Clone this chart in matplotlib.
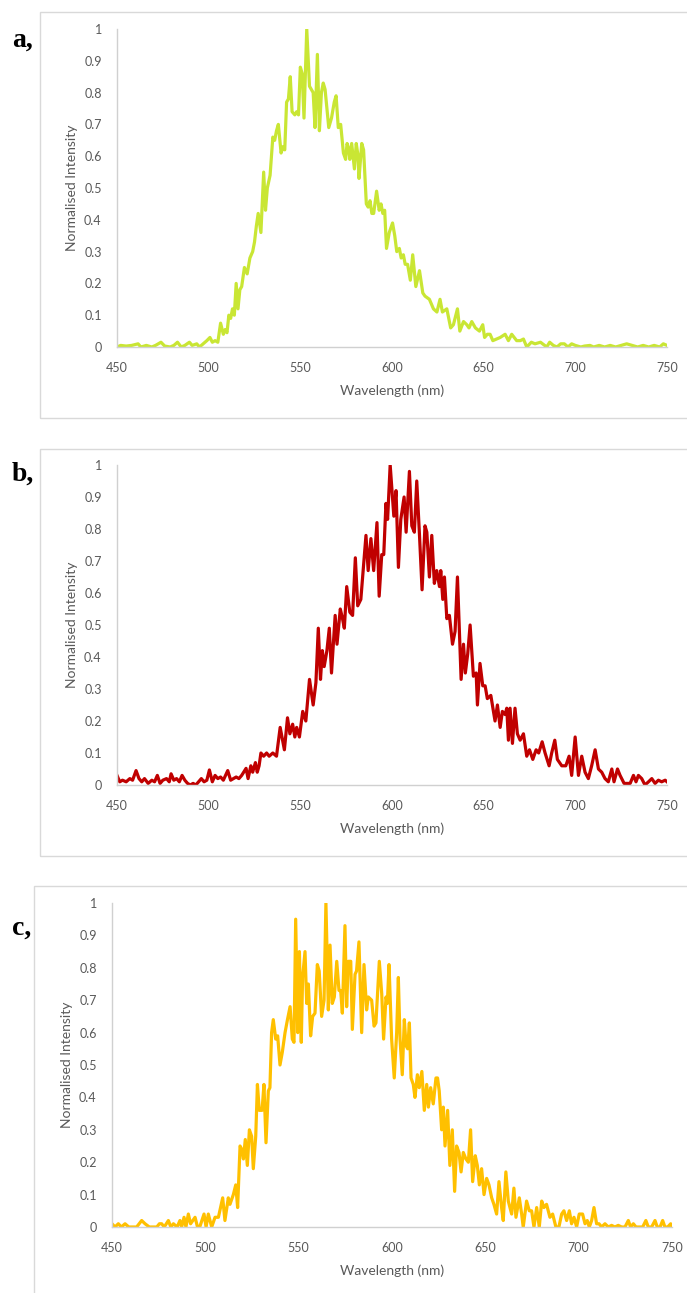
import numpy as np
import matplotlib.pyplot as plt
from matplotlib.patches import Rectangle

# Panel a spectrum (wavelength nm, normalised intensity)
a_wl = [450, 452, 455, 458, 461.5, 463, 466, 469, 471, 474, 476, 479, 481, 483, 485, 487,
        489.5, 491, 493.5, 495, 497, 499, 500.7, 502, 503.5, 505, 506.5, 508, 509, 510, 511,
        512, 513, 514, 515, 516, 517, 518, 519.5, 521, 522.5, 524, 525, 526, 527, 528.5, 530,
        531, 532, 533.5, 535, 536, 537, 538, 539.5, 540.5, 541.5, 542.5, 543.5, 544.5, 545.5,
        547, 548, 549, 550, 551, 552, 553.5, 555, 556, 557, 558, 559.3, 560.4, 561.5, 562.5,
        563.5, 565.5, 567, 568.5, 569.5, 570.7, 572, 573.5, 574.7, 575.5, 576.5, 577, 578,
        579.5, 580.5, 581.5, 582, 583.5, 584.5, 586, 587, 588, 589, 590, 591.6, 593, 594, 595,
        596, 597, 598.5, 600.3, 601.5, 602.6, 604, 605, 606.2, 607.2, 608.5, 610, 611.3, 613,
        615, 616.8, 618, 620.4, 622.6, 624.5, 626.2, 627.5, 629.9, 632, 633.5, 635.7, 637, 639,
        640.8, 642, 643.5, 645.5, 647.7, 649.5, 650.5, 652, 653.5, 655, 657, 659, 661.7, 663.5,
        665.3, 668, 670, 671.7, 673.5, 676, 678, 681, 684.4, 686, 688, 690, 692, 694, 696, 698,
        700, 703, 705, 708, 710, 713, 716, 719, 722, 725, 728, 731, 734, 737, 740, 743, 746,
        748, 750]
a_int = [0.0, 0.005, 0.003, 0.005, 0.01, 0.0, 0.005, 0.0, 0.005, 0.015, 0.003, 0.0, 0.005,
         0.015, 0.0, 0.005, 0.015, 0.005, 0.01, 0.0, 0.01, 0.02, 0.03, 0.015, 0.02, 0.015,
         0.075, 0.04, 0.055, 0.045, 0.1, 0.09, 0.12, 0.1, 0.2, 0.12, 0.18, 0.19, 0.25, 0.23,
         0.28, 0.3, 0.33, 0.38, 0.42, 0.36, 0.55, 0.43, 0.5, 0.54, 0.66, 0.65, 0.68, 0.7, 0.61,
         0.63, 0.62, 0.77, 0.78, 0.85, 0.74, 0.73, 0.74, 0.73, 0.88, 0.86, 0.72, 1.0, 0.82,
         0.81, 0.8, 0.69, 0.92, 0.68, 0.8, 0.83, 0.81, 0.69, 0.72, 0.77, 0.79, 0.69, 0.7, 0.61,
         0.59, 0.64, 0.62, 0.59, 0.64, 0.56, 0.64, 0.6, 0.53, 0.64, 0.62, 0.45, 0.44, 0.46,
         0.42, 0.42, 0.49, 0.43, 0.45, 0.42, 0.43, 0.31, 0.36, 0.39, 0.35, 0.3, 0.31, 0.28,
         0.29, 0.26, 0.26, 0.21, 0.29, 0.19, 0.24, 0.17, 0.16, 0.15, 0.12, 0.11, 0.15, 0.11,
         0.12, 0.06, 0.07, 0.12, 0.05, 0.08, 0.07, 0.06, 0.08, 0.06, 0.05, 0.07, 0.03, 0.04,
         0.04, 0.02, 0.025, 0.03, 0.04, 0.02, 0.04, 0.02, 0.02, 0.025, 0.0, 0.015, 0.01, 0.015,
         0.0, 0.015, 0.005, 0.0, 0.01, 0.01, 0.0, 0.01, 0.005, 0.0, 0.003, 0.005, 0.0, 0.005,
         0.0, 0.005, 0.0, 0.005, 0.01, 0.005, 0.0, 0.005, 0.0, 0.005, 0.0, 0.01, 0.005]

# Panel b spectrum
b_wl = [450, 451.5, 453, 455, 457, 458.5, 460.4, 462, 463.5, 465, 467, 469, 470.5, 472, 473.5,
        475, 477, 478.5, 479.5, 481, 482.5, 484, 485.5, 487, 488.5, 490, 491.5, 493, 494.5,
        496, 497.5, 499, 500.4, 502, 503.5, 505, 506.5, 508, 510.4, 512, 513.5, 515, 516.5,
        518, 520.4, 521.5, 523, 524, 525.5, 526.5, 527.5, 528.5, 530, 531.6, 533, 535, 537,
        539, 541.3, 543, 544.3, 545.8, 547, 548, 549.5, 551.3, 553, 555, 557, 558.5, 559.8,
        561, 562, 563, 564.5, 565.8, 567, 569, 570, 571.8, 573, 574, 575.3, 577, 578.5, 580,
        581.3, 583, 585.8, 587, 588.5, 590, 591.8, 593, 594.4, 595.5, 596.7, 597.6, 599, 601,
        602.2, 603.5, 604.8, 606.6, 607.7, 609.5, 610.8, 612.2, 613.5, 615, 616.4, 618, 619,
        620.4, 621.7, 623.1, 624.4, 625.9, 626.6, 627.7, 628.6, 629.9, 631.3, 633, 634.4,
        635.7, 637.7, 639, 640, 641.3, 642.6, 644.4, 645.9, 646.6, 648, 649.5, 650.8, 652,
        653.9, 656.2, 657.5, 659, 660.2, 661.7, 662.6, 663.5, 664.4, 665.7, 667.1, 668.4,
        669.9, 671.7, 673.5, 675, 676.8, 678.6, 680, 681.9, 683.5, 685.7, 687.1, 688.8, 690.2,
        692.6, 694.8, 696.6, 698, 699.9, 701.7, 703.5, 705.3, 707.1, 708.9, 710.8, 712.6,
        714.4, 716.2, 718, 719.9, 721.1, 723, 724.4, 726.6, 729.9, 731.7, 733.1, 734.4, 736.2,
        738, 739.9, 741.7, 743.5, 745.3, 747.1, 749, 750]
b_int = [0.03, 0.01, 0.015, 0.01, 0.02, 0.015, 0.045, 0.02, 0.01, 0.02, 0.005, 0.015, 0.01,
         0.03, 0.005, 0.015, 0.02, 0.01, 0.035, 0.015, 0.02, 0.01, 0.03, 0.015, 0.005, 0.0,
         0.005, 0.0, 0.01, 0.02, 0.01, 0.015, 0.047, 0.01, 0.03, 0.02, 0.025, 0.015, 0.045,
         0.015, 0.02, 0.025, 0.02, 0.03, 0.052, 0.02, 0.06, 0.04, 0.07, 0.04, 0.06, 0.1, 0.09,
         0.1, 0.09, 0.1, 0.09, 0.18, 0.11, 0.21, 0.16, 0.19, 0.15, 0.18, 0.15, 0.23, 0.2, 0.33,
         0.25, 0.32, 0.49, 0.33, 0.42, 0.37, 0.42, 0.49, 0.35, 0.53, 0.44, 0.55, 0.52, 0.49,
         0.62, 0.54, 0.53, 0.71, 0.56, 0.58, 0.78, 0.67, 0.77, 0.67, 0.82, 0.59, 0.72, 0.72,
         0.88, 0.83, 1.0, 0.84, 0.92, 0.68, 0.83, 0.9, 0.79, 0.98, 0.81, 0.79, 0.95, 0.78,
         0.61, 0.81, 0.79, 0.65, 0.78, 0.63, 0.67, 0.62, 0.67, 0.58, 0.65, 0.52, 0.53, 0.44,
         0.48, 0.65, 0.33, 0.44, 0.35, 0.41, 0.5, 0.34, 0.35, 0.25, 0.38, 0.31, 0.31, 0.27,
         0.28, 0.2, 0.25, 0.18, 0.23, 0.22, 0.24, 0.14, 0.24, 0.13, 0.24, 0.16, 0.14, 0.16,
         0.09, 0.11, 0.08, 0.11, 0.1, 0.135, 0.1, 0.06, 0.1, 0.14, 0.08, 0.06, 0.06, 0.09,
         0.03, 0.15, 0.03, 0.09, 0.04, 0.02, 0.06, 0.11, 0.05, 0.04, 0.02, 0.01, 0.05, 0.01,
         0.05, 0.03, 0.005, 0.005, 0.03, 0.01, 0.03, 0.02, 0.0, 0.01, 0.02, 0.005, 0.015,
         0.01, 0.015, 0.01]

# Panel c spectrum
c_wl = [450, 451.6, 453.4, 455, 457, 459, 463.2, 465.9, 467.7, 470, 474, 475.4, 476.6, 478,
        480.2, 481.5, 482.9, 484.9, 486.4, 487.3, 488.6, 489.6, 490.9, 492.1, 494.5, 495.8,
        497, 499.3, 500.4, 501.6, 503.4, 505.2, 507, 509.3, 510.5, 512.3, 513.2, 515, 516.3,
        517.3, 518.6, 519.5, 520.4, 521.4, 522.5, 523.6, 524.8, 525.7, 527, 527.9, 528.9,
        530.4, 531.4, 532.5, 533.75, 534.6, 535.5, 536.4, 537.7, 538.75, 540, 541.25, 542.7,
        544, 545.4, 546.6, 547.5, 548.4, 549.5, 550.4, 551.4, 552.1, 553.4, 554.3, 555.2,
        556.4, 557.5, 558.75, 560, 561, 562.3, 563.6, 564.6, 565.9, 566.8, 568, 569.1, 570.4,
        571.6, 572.5, 573.4, 574.8, 575.7, 576.6, 577.9, 578.75, 580.2, 581, 582.3, 583.75,
        585, 586.4, 587.3, 589.1, 590.4, 591.4, 593.2, 594.5, 595.5, 596.8, 597.5, 598.4,
        599.8, 601.2, 602.5, 603.4, 604.3, 605.5, 606.6, 607.5, 608.4, 609.3, 610.2, 611.4,
        612.3, 613.6, 614.6, 616, 617.3, 618.6, 619.5, 620.7, 622.1, 623.55, 624.4, 625.3,
        626.6, 627.5, 628.4, 629.8, 631, 632.3, 633.55, 634.6, 635.9, 637, 638.2, 639.6,
        640.9, 642.1, 643.2, 644.6, 645.7, 646.8, 648, 649.3, 650.7, 651.95, 653.4, 654.6,
        656.05, 657.3, 658.7, 659.6, 661, 662.3, 664.1, 665.3, 666.4, 668.2, 669.45, 670.3,
        672.1, 673.55, 674.8, 676.05, 677.5, 678.9, 680.2, 681.4, 682.8, 684.6, 686.05, 687.8,
        689.4, 690.9, 692.1, 693.55, 695, 696.2, 697.5, 698.9, 700.3, 702.1, 703.4, 704.6,
        705.7, 706.95, 708.2, 709.6, 710.9, 712.3, 714.1, 715.9, 717.65, 719.4, 721.2, 723,
        724.8, 726.6, 727.8, 729.3, 730.7, 732.5, 734.3, 736, 737.3, 739.1, 740.9, 742.1,
        743.6, 745, 746.2, 747.7, 749.3, 750]
c_int = [0.01, 0.0, 0.01, 0.0, 0.01, 0.0, 0.0, 0.02, 0.01, 0.0, 0.0, 0.01, 0.01, 0.0, 0.02,
         0.0, 0.01, 0.0, 0.02, 0.0, 0.03, 0.0, 0.04, 0.01, 0.03, 0.0, 0.0, 0.04, 0.0, 0.04,
         0.0, 0.03, 0.03, 0.09, 0.02, 0.09, 0.07, 0.1, 0.13, 0.06, 0.25, 0.24, 0.21, 0.27,
         0.19, 0.3, 0.28, 0.18, 0.28, 0.44, 0.36, 0.36, 0.44, 0.26, 0.42, 0.43, 0.6, 0.64,
         0.58, 0.59, 0.5, 0.54, 0.6, 0.64, 0.68, 0.58, 0.57, 0.95, 0.6, 0.85, 0.57, 0.77, 0.85,
         0.69, 0.75, 0.59, 0.65, 0.66, 0.81, 0.79, 0.65, 0.7, 1.0, 0.67, 0.87, 0.69, 0.71,
         0.82, 0.73, 0.73, 0.66, 0.93, 0.68, 0.82, 0.82, 0.61, 0.78, 0.79, 0.88, 0.6, 0.81,
         0.67, 0.71, 0.7, 0.62, 0.63, 0.82, 0.72, 0.58, 0.71, 0.69, 0.81, 0.58, 0.46, 0.6,
         0.77, 0.58, 0.47, 0.64, 0.56, 0.55, 0.63, 0.46, 0.44, 0.4, 0.47, 0.43, 0.48, 0.36,
         0.44, 0.37, 0.43, 0.38, 0.46, 0.46, 0.42, 0.3, 0.37, 0.25, 0.36, 0.19, 0.3, 0.11,
         0.25, 0.23, 0.17, 0.23, 0.21, 0.2, 0.3, 0.14, 0.22, 0.19, 0.13, 0.18, 0.1, 0.15, 0.13,
         0.09, 0.07, 0.04, 0.14, 0.06, 0.02, 0.17, 0.08, 0.04, 0.12, 0.03, 0.09, 0.04, 0.0,
         0.08, 0.05, 0.05, 0.0, 0.06, 0.0, 0.08, 0.06, 0.07, 0.03, 0.04, 0.0, 0.0, 0.04, 0.05,
         0.02, 0.05, 0.01, 0.03, 0.0, 0.04, 0.04, 0.01, 0.02, 0.0, 0.02, 0.06, 0.01, 0.01, 0.0,
         0.01, 0.0, 0.005, 0.0, 0.005, 0.0, 0.0, 0.02, 0.0, 0.01, 0.0, 0.0, 0.0, 0.02, 0.0,
         0.0, 0.02, 0.0, 0.0, 0.02, 0.0, 0.0, 0.01, 0.0]

x_ticks = [450, 500, 550, 600, 650, 700, 750]
y_ticks = [0, 0.1, 0.2, 0.3, 0.4, 0.5, 0.6, 0.7, 0.8, 0.9, 1]
y_labels = ['0', '0.1', '0.2', '0.3', '0.4', '0.5', '0.6', '0.7', '0.8', '0.9', '1']

W, H = 687, 1293
fig = plt.figure(figsize=(W / 100, H / 100), dpi=100)
plt.rcParams['font.family'] = ['Lato', 'DejaVu Sans']

grey = '#595959'
axis_grey = '#d0d0d0'

# label, data, colour, frame (left, top, bottom), axes (l, t, r, b), label y, ylabel x  -- pixels
panels = [
    ('a,', a_wl, a_int, '#c9e634', (40, 12, 418), (117, 29, 667, 347), 40, 78),
    ('b,', b_wl, b_int, '#c00000', (40, 449, 856), (117, 465, 667, 785), 474, 78),
    ('c,', c_wl, c_int, '#ffc000', (34, 886, 1300), (112, 903, 672, 1227), 928, 73),
]

for lab, xs, ys, col, box, axp, ly, ylx in panels:
    # panel frame
    fig.patches.append(Rectangle((box[0] / W, 1 - box[2] / H), (W + 10 - box[0]) / W,
                                 (box[2] - box[1]) / H, transform=fig.transFigure,
                                 fill=False, edgecolor='#d9d9d9', linewidth=1))
    l, t, r, b = axp
    ax = fig.add_axes([l / W, 1 - b / H, (r - l) / W, (b - t) / H])
    ax.plot(xs, ys, color=col, linewidth=2.3, solid_joinstyle='round')
    ax.set_xlim(450, 750)
    ax.set_ylim(0, 1)
    ax.set_xticks(x_ticks)
    ax.set_yticks(y_ticks)
    ax.set_yticklabels(y_labels)
    ax.tick_params(length=0, labelsize=9, labelcolor=grey)
    ax.tick_params(axis='y', pad=11)
    ax.tick_params(axis='x', pad=11)
    for s in ['top', 'right']:
        ax.spines[s].set_visible(False)
    for s in ['left', 'bottom']:
        ax.spines[s].set_color(axis_grey)
        ax.spines[s].set_linewidth(1)
    ax.set_xlabel('Wavelength (nm)', fontsize=10, color=grey)
    ax.set_ylabel('Normalised Intensity', fontsize=10, color=grey)
    ax.xaxis.set_label_coords(0.5, -37 / (b - t))
    ax.yaxis.set_label_coords((ylx - l) / (r - l), 0.5)
    fig.text(12 / W, 1 - ly / H, lab, family='Liberation Serif', fontweight='bold',
             fontsize=20, va='center', ha='left')

plt.savefig('out.png', dpi=100)
